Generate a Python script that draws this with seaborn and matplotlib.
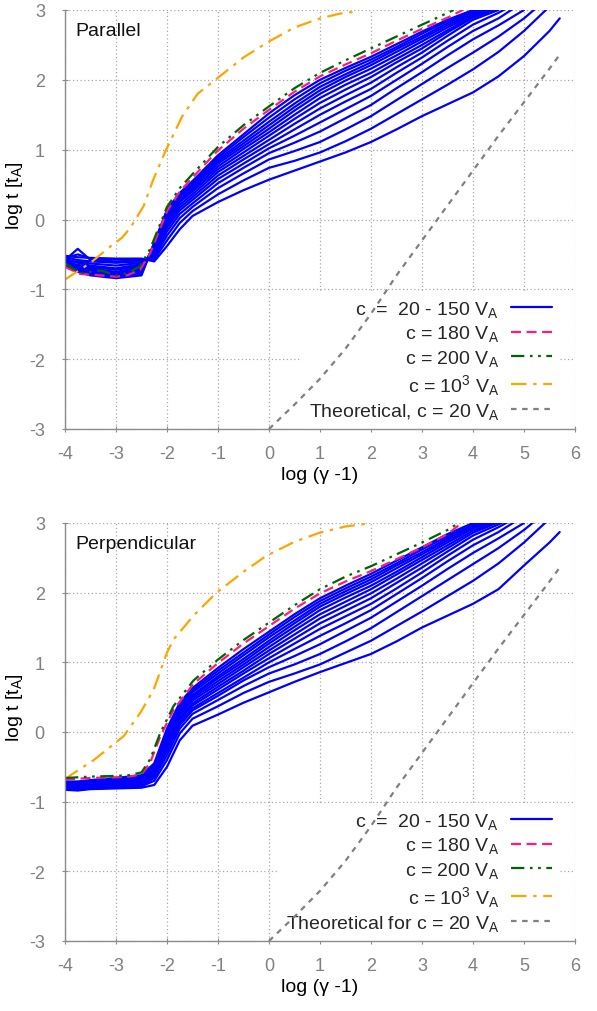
import numpy as np
import pandas as pd
import matplotlib
matplotlib.use("Agg")
import matplotlib.pyplot as plt
import seaborn as sns
from matplotlib.lines import Line2D

N = np.nan

# ---------------- data ----------------
C_VALUES = [20, 30, 40, 50, 60, 70, 80, 90, 100, 110, 120, 130, 140, 150]
X_LEFT = [-4.0, -3.75, -3.5, -3.0, -2.5, -2.25, -2.0, -1.75, -1.5, -1.0, -0.5]
X_RIGHT = [0.0, 0.5, 1.0, 1.5, 2.0, 2.5, 3.0, 3.5, 4.0, 4.5, 5.0, 5.5, 5.7]

# Parallel panel, c = 20 ... 150 V_A (one row per c)
PAR_LEFT = [
    [-0.52, -0.54, -0.55, -0.56, -0.56, -0.60, -0.38, -0.14, 0.05, 0.25, 0.42],
    [-0.55, -0.50, -0.56, -0.57, -0.57, -0.57, -0.30, -0.05, 0.12, 0.36, 0.56],
    [-0.58, -0.42, -0.58, -0.60, -0.58, -0.54, -0.23, 0.02, 0.18, 0.45, 0.66],
    [-0.54, -0.58, -0.60, -0.62, -0.60, -0.51, -0.17, 0.08, 0.23, 0.52, 0.74],
    [-0.60, -0.60, -0.63, -0.66, -0.62, -0.48, -0.12, 0.13, 0.28, 0.58, 0.80],
    [-0.56, -0.62, -0.66, -0.70, -0.64, -0.46, -0.08, 0.17, 0.32, 0.63, 0.86],
    [-0.62, -0.65, -0.68, -0.72, -0.66, -0.44, -0.04, 0.21, 0.36, 0.68, 0.91],
    [-0.58, -0.66, -0.70, -0.75, -0.68, -0.42, -0.01, 0.25, 0.40, 0.72, 0.96],
    [-0.65, -0.68, -0.72, -0.77, -0.70, -0.40, 0.02, 0.28, 0.43, 0.76, 1.01],
    [-0.60, -0.70, -0.74, -0.79, -0.72, -0.38, 0.05, 0.31, 0.46, 0.80, 1.05],
    [-0.66, -0.72, -0.76, -0.81, -0.74, -0.36, 0.08, 0.33, 0.49, 0.83, 1.09],
    [-0.62, -0.73, -0.78, -0.82, -0.76, -0.35, 0.10, 0.35, 0.51, 0.86, 1.13],
    [-0.68, -0.74, -0.79, -0.83, -0.78, -0.34, 0.12, 0.37, 0.53, 0.89, 1.18],
    [-0.64, -0.75, -0.80, -0.84, -0.80, -0.33, 0.14, 0.38, 0.55, 0.92, 1.22],
]
PAR_RIGHT = [
    [0.57, 0.70, 0.83, 0.96, 1.11, 1.29, 1.48, 1.65, 1.82, 2.05, 2.34, 2.70, 2.88],
    [0.74, 0.84, 0.96, 1.12, 1.30, 1.51, 1.72, 1.93, 2.15, 2.40, 2.70, 3.05, N],
    [0.86, 0.98, 1.11, 1.29, 1.48, 1.71, 1.94, 2.17, 2.39, 2.62, 2.88, 3.19, N],
    [0.95, 1.10, 1.26, 1.45, 1.64, 1.88, 2.11, 2.35, 2.58, 2.78, 3.00, N, N],
    [1.02, 1.20, 1.39, 1.58, 1.77, 2.00, 2.23, 2.47, 2.70, 2.88, 3.12, N, N],
    [1.08, 1.29, 1.50, 1.69, 1.87, 2.10, 2.32, 2.56, 2.79, 2.96, 3.16, N, N],
    [1.14, 1.37, 1.59, 1.78, 1.96, 2.18, 2.39, 2.63, 2.86, 3.00, N, N, N],
    [1.20, 1.44, 1.67, 1.86, 2.04, 2.25, 2.45, 2.68, 2.89, 3.02, N, N, N],
    [1.25, 1.50, 1.74, 1.93, 2.10, 2.30, 2.50, 2.71, 2.91, 3.04, N, N, N],
    [1.30, 1.56, 1.80, 1.99, 2.16, 2.35, 2.55, 2.75, 2.93, 3.05, N, N, N],
    [1.35, 1.61, 1.85, 2.04, 2.21, 2.40, 2.59, 2.78, 2.95, 3.07, N, N, N],
    [1.40, 1.66, 1.90, 2.08, 2.25, 2.44, 2.62, 2.81, 2.97, 3.08, N, N, N],
    [1.46, 1.72, 1.95, 2.13, 2.29, 2.47, 2.66, 2.84, 2.98, 3.12, N, N, N],
    [1.52, 1.78, 2.00, 2.17, 2.33, 2.51, 2.69, 2.86, 3.00, N, N, N, N],
]

# Perpendicular panel, c = 20 ... 150 V_A
PERP_LEFT = [
    [-0.83, -0.84, -0.82, -0.81, -0.80, -0.76, -0.50, -0.12, 0.09, 0.25, 0.42],
    [-0.82, -0.83, -0.81, -0.80, -0.78, -0.70, -0.40, -0.02, 0.19, 0.37, 0.56],
    [-0.81, -0.82, -0.80, -0.79, -0.77, -0.66, -0.33, 0.05, 0.26, 0.46, 0.66],
    [-0.80, -0.81, -0.79, -0.78, -0.75, -0.63, -0.27, 0.10, 0.31, 0.52, 0.74],
    [-0.79, -0.80, -0.78, -0.77, -0.74, -0.61, -0.24, 0.13, 0.34, 0.56, 0.78],
    [-0.78, -0.79, -0.77, -0.76, -0.72, -0.59, -0.20, 0.17, 0.38, 0.61, 0.84],
    [-0.77, -0.78, -0.76, -0.75, -0.71, -0.57, -0.17, 0.20, 0.41, 0.65, 0.88],
    [-0.77, -0.77, -0.75, -0.74, -0.70, -0.56, -0.14, 0.24, 0.45, 0.69, 0.93],
    [-0.76, -0.76, -0.74, -0.73, -0.68, -0.54, -0.10, 0.27, 0.48, 0.73, 0.97],
    [-0.75, -0.75, -0.73, -0.72, -0.67, -0.52, -0.08, 0.30, 0.51, 0.77, 1.01],
    [-0.74, -0.74, -0.72, -0.71, -0.66, -0.51, -0.05, 0.32, 0.53, 0.80, 1.05],
    [-0.73, -0.73, -0.71, -0.69, -0.64, -0.49, -0.02, 0.36, 0.57, 0.84, 1.10],
    [-0.72, -0.72, -0.70, -0.68, -0.63, -0.47, 0.02, 0.39, 0.60, 0.88, 1.14],
    [-0.71, -0.71, -0.69, -0.66, -0.62, -0.45, 0.05, 0.42, 0.63, 0.92, 1.19],
]
PERP_RIGHT = [
    [0.57, 0.72, 0.86, 0.99, 1.12, 1.30, 1.50, 1.67, 1.84, 2.05, 2.39, 2.72, 2.87],
    [0.72, 0.84, 0.97, 1.14, 1.31, 1.52, 1.73, 1.95, 2.17, 2.42, 2.72, 3.06, N],
    [0.84, 0.97, 1.12, 1.30, 1.49, 1.72, 1.95, 2.18, 2.41, 2.64, 2.90, 3.20, N],
    [0.93, 1.09, 1.26, 1.45, 1.64, 1.87, 2.10, 2.34, 2.57, 2.78, 3.00, N, N],
    [1.00, 1.19, 1.38, 1.56, 1.75, 1.98, 2.21, 2.45, 2.68, 2.87, 3.10, N, N],
    [1.06, 1.27, 1.48, 1.66, 1.84, 2.06, 2.29, 2.53, 2.76, 2.94, 3.14, N, N],
    [1.12, 1.34, 1.56, 1.74, 1.92, 2.14, 2.36, 2.59, 2.82, 2.98, 3.16, N, N],
    [1.17, 1.40, 1.63, 1.81, 1.99, 2.20, 2.42, 2.64, 2.86, 3.01, N, N, N],
    [1.22, 1.46, 1.69, 1.87, 2.05, 2.26, 2.47, 2.68, 2.89, 3.03, N, N, N],
    [1.27, 1.51, 1.75, 1.93, 2.10, 2.30, 2.51, 2.72, 2.92, 3.05, N, N, N],
    [1.31, 1.56, 1.80, 1.98, 2.15, 2.35, 2.55, 2.75, 2.94, 3.06, N, N, N],
    [1.36, 1.60, 1.84, 2.02, 2.19, 2.39, 2.58, 2.78, 2.96, 3.08, N, N, N],
    [1.40, 1.65, 1.88, 2.06, 2.23, 2.42, 2.62, 2.81, 2.98, 3.10, N, N, N],
    [1.44, 1.69, 1.92, 2.10, 2.27, 2.46, 2.65, 2.84, 3.00, N, N, N, N],
]

# c = 180 V_A
PAR_C180_X = [-4.0, -3.7, -3.3, -3.0, -2.78, -2.53, -2.33, -2.0, -1.75, -1.5, -1.0, -0.5,
              0.0, 0.5, 1.0, 1.5, 2.0, 2.5, 3.0, 3.5, 3.8]
PAR_C180_Y = [-0.68, -0.78, -0.80, -0.82, -0.80, -0.72, -0.48, 0.12, 0.40, 0.60, 0.99, 1.30,
              1.57, 1.83, 2.05, 2.22, 2.38, 2.56, 2.73, 2.89, 3.0]
PERP_C180_X = [-4.0, -3.5, -3.0, -2.75, -2.5, -2.33, -2.13, -1.87, -1.48, -1.0, -0.5,
               0.0, 0.5, 1.0, 1.5, 2.0, 2.5, 3.0, 3.5, 3.78]
PERP_C180_Y = [-0.68, -0.66, -0.65, -0.64, -0.61, -0.44, -0.06, 0.32, 0.69, 0.99, 1.27,
               1.52, 1.77, 1.99, 2.16, 2.31, 2.48, 2.65, 2.84, 3.0]

# c = 200 V_A
PAR_C200_X = [-4.0, -3.7, -3.3, -3.0, -2.78, -2.53, -2.33, -2.0, -1.75, -1.5, -1.0, -0.5,
              0.0, 0.5, 1.0, 1.5, 2.0, 2.5, 3.0, 3.3, 3.62]
PAR_C200_Y = [-0.63, -0.77, -0.73, -0.80, -0.77, -0.67, -0.42, 0.18, 0.45, 0.65, 1.04, 1.35,
              1.62, 1.88, 2.10, 2.28, 2.45, 2.62, 2.79, 2.89, 3.0]
PERP_C200_X = [-4.0, -3.5, -3.0, -2.75, -2.5, -2.33, -2.13, -1.87, -1.48, -1.0, -0.5,
               0.0, 0.5, 1.0, 1.5, 2.0, 2.5, 3.0, 3.5, 3.72]
PERP_C200_Y = [-0.66, -0.64, -0.63, -0.62, -0.58, -0.39, -0.01, 0.375, 0.74, 1.04, 1.32,
               1.57, 1.82, 2.05, 2.23, 2.38, 2.55, 2.72, 2.90, 3.0]

# c = 10^3 V_A
PAR_C1000_X = [-4.0, -3.5, -3.1, -2.88, -2.72, -2.46, -2.27, -2.03, -1.7, -1.4, -1.0, -0.5,
               0.0, 0.5, 1.0, 1.4, 1.75]
PAR_C1000_Y = [-0.86, -0.62, -0.38, -0.26, -0.12, 0.19, 0.57, 0.98, 1.48, 1.80, 2.03, 2.32,
               2.55, 2.75, 2.88, 2.95, 2.98]
PERP_C1000_X = [-4.0, -3.89, -3.43, -2.85, -2.52, -2.26, -2.0, -1.87, -1.48, -1.03, -0.5,
                -0.05, 0.5, 0.99, 1.5, 1.93]
PERP_C1000_Y = [-0.68, -0.62, -0.40, -0.06, 0.28, 0.61, 1.14, 1.33, 1.67, 2.0, 2.30,
                2.53, 2.73, 2.86, 2.95, 2.99]

# Theoretical, c = 20 V_A
THEORY_X = [0.0, 0.5, 1.0, 1.5, 2.0, 2.5, 3.0, 3.5, 4.0, 4.5, 5.0, 5.5, 5.7]
THEORY_Y = [-3.0, -2.65, -2.28, -1.85, -1.35, -0.80, -0.30, 0.20, 0.70, 1.20, 1.68, 2.16, 2.36]

X_TICKS = [-4, -3, -2, -1, 0, 1, 2, 3, 4, 5, 6]
Y_TICKS = [-3, -2, -1, 0, 1, 2, 3]

LEGEND_PAR = [r"c  =  20 - 150 V$_A$", r"c = 180 V$_A$", r"c = 200 V$_A$",
              r"c = 10$^3$ V$_A$", r"Theoretical, c = 20 V$_A$"]
LEGEND_PERP = [r"c  =  20 - 150 V$_A$", r"c = 180 V$_A$", r"c = 200 V$_A$",
               r"c = 10$^3$ V$_A$", r"Theoretical for c = 20 V$_A$"]

# ---------------- style ----------------
sns.set_theme(style="white")
plt.rcParams["font.family"] = ["Liberation Sans", "DejaVu Sans"]
plt.rcParams["mathtext.default"] = "regular"
plt.rcParams["axes.unicode_minus"] = False

BLUE = "#0000ff"
MAGENTA = "#ff1a80"
GREEN = "#006400"
ORANGE = "#ffa500"
GRAY = "#808080"

LS_C180 = (0, (4.5, 2.5))
LS_C200 = (0, (6, 2.5, 1.2, 2.5, 1.2, 2.5))
LS_C1000 = (0, (7, 3, 1.5, 3))
LS_THEORY = (0, (2.5, 2.5))
LW = 1.6


def blue_frame(left_rows, right_rows):
    xs = X_LEFT + X_RIGHT
    recs = []
    for c, l, r in zip(C_VALUES, left_rows, right_rows):
        for x, y in zip(xs, l + r):
            recs.append((c, x, y))
    return pd.DataFrame(recs, columns=["c", "x", "y"]).dropna()


def draw_panel(ax, left_rows, right_rows, c180, c200, c1000, labels, title):
    df = blue_frame(left_rows, right_rows)
    sns.lineplot(data=df, x="x", y="y", units="c", estimator=None, sort=False,
                 color=BLUE, lw=LW, ax=ax, legend=False, zorder=2)
    sns.lineplot(x=c180[0], y=c180[1], estimator=None, sort=False, color=MAGENTA,
                 lw=LW, linestyle=LS_C180, ax=ax, zorder=2.2)
    sns.lineplot(x=c200[0], y=c200[1], estimator=None, sort=False, color=GREEN,
                 lw=LW, linestyle=LS_C200, ax=ax, zorder=2.3)
    sns.lineplot(x=c1000[0], y=c1000[1], estimator=None, sort=False, color=ORANGE,
                 lw=LW, linestyle=LS_C1000, ax=ax, zorder=2.1)
    sns.lineplot(x=THEORY_X, y=THEORY_Y, estimator=None, sort=False, color=GRAY,
                 lw=LW, linestyle=LS_THEORY, ax=ax, zorder=3)

    ax.set_xlim(-4, 6)
    ax.set_ylim(-3, 3)
    ax.set_xticks(X_TICKS)
    ax.set_yticks(Y_TICKS)
    ax.grid(True, color="#a8a8a8", linestyle=(0, (1, 2)), linewidth=0.9)
    ax.set_axisbelow(True)
    for s in ["top", "right"]:
        ax.spines[s].set_visible(False)
    for s in ["left", "bottom"]:
        ax.spines[s].set_color("#8c8c8c")
        ax.spines[s].set_linewidth(1.0)
    ax.tick_params(axis="both", which="both", bottom=True, left=True,
                   direction="inout", length=5, width=0.8, color="#8c8c8c",
                   labelcolor="#808080", labelsize=13)
    ax.tick_params(axis="x", pad=9)
    ax.tick_params(axis="y", pad=12)
    ax.set_xlabel("log (γ -1)", fontsize=14, color="black", labelpad=3)
    ax.set_ylabel(r"log t [t$_A$]", fontsize=14, color="black")
    ax.yaxis.set_label_coords(-0.078, 0.56)
    ax.text(0.02, 0.95, title, transform=ax.transAxes, fontsize=14,
            ha="left", va="center", color="#111111")

    handles = [
        Line2D([], [], color=BLUE, lw=LW),
        Line2D([], [], color=MAGENTA, lw=LW, linestyle=LS_C180),
        Line2D([], [], color=GREEN, lw=LW, linestyle=LS_C200),
        Line2D([], [], color=ORANGE, lw=LW, linestyle=LS_C1000),
        Line2D([], [], color=GRAY, lw=LW, linestyle=LS_THEORY),
    ]
    leg = ax.legend(handles, labels, loc="lower right", bbox_to_anchor=(0.97, 0.0),
                    frameon=True, facecolor="white", edgecolor="none", framealpha=1,
                    fancybox=False, markerfirst=False, fontsize=14, handlelength=2.1,
                    handletextpad=0.6, labelspacing=0.22, borderpad=0.4,
                    borderaxespad=0)
    leg.set_zorder(1.5)


fig = plt.figure(figsize=(5.97, 10.12), dpi=100)
ax_top = fig.add_axes([65 / 597, 1 - 430 / 1012, 510 / 597, 419 / 1012])
ax_bot = fig.add_axes([65 / 597, 1 - 942 / 1012, 510 / 597, 418 / 1012])

draw_panel(ax_top, PAR_LEFT, PAR_RIGHT, (PAR_C180_X, PAR_C180_Y), (PAR_C200_X, PAR_C200_Y),
           (PAR_C1000_X, PAR_C1000_Y), LEGEND_PAR, "Parallel")
draw_panel(ax_bot, PERP_LEFT, PERP_RIGHT, (PERP_C180_X, PERP_C180_Y), (PERP_C200_X, PERP_C200_Y),
           (PERP_C1000_X, PERP_C1000_Y), LEGEND_PERP, "Perpendicular")

fig.savefig("out.png", dpi=100)
